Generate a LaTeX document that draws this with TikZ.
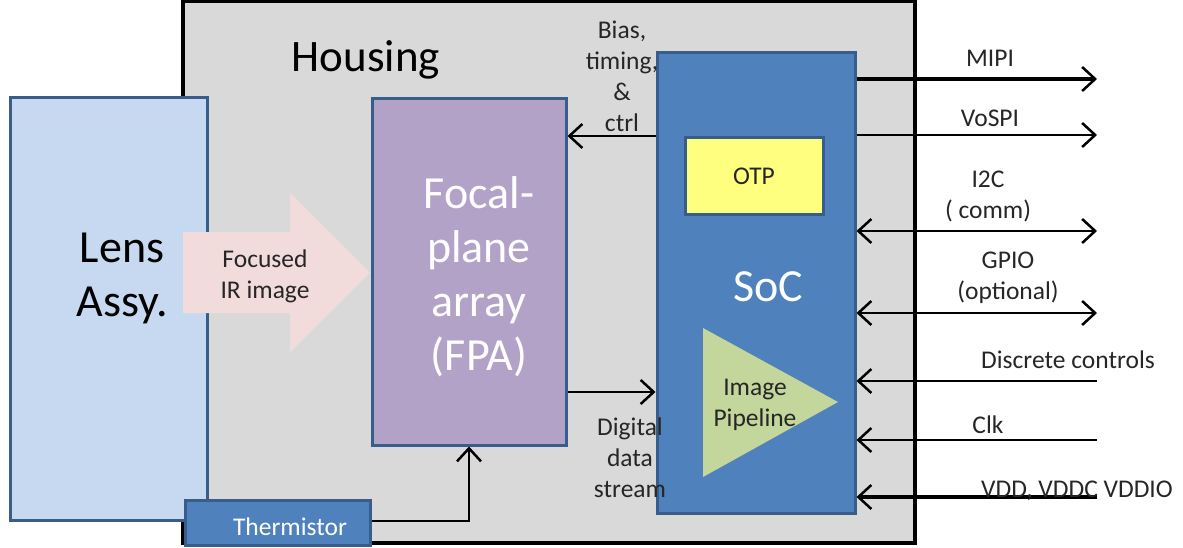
\documentclass[tikz,border=0pt]{standalone}
\usepackage{fontspec}
\setmainfont{Carlito}
\usetikzlibrary{arrows.meta,positioning}
\definecolor{housegray}{HTML}{D9D9D9}
\definecolor{edgeblue}{HTML}{385D8A}
\definecolor{lensblue}{HTML}{C6D9F1}
\definecolor{fpapurple}{HTML}{B3A2C7}
\definecolor{socblue}{HTML}{4F81BD}
\definecolor{otpyellow}{HTML}{FFFF7F}
\definecolor{pipegreen}{HTML}{C3D69B}
\definecolor{beampink}{HTML}{F2DCDB}
\definecolor{ink}{HTML}{262626}
\begin{document}
\begin{tikzpicture}[
  x=1pt,y=-1pt,
  block/.style={draw=edgeblue,line width=3pt,inner sep=0pt},
  big/.style={font=\fontsize{46}{54}\selectfont,align=center,inner sep=0pt},
  lab/.style={font=\fontsize{25.5}{31}\selectfont,align=center,inner sep=0pt,text=ink},
  sig/.style={line width=2.5pt,-{Straight Barb[length=13pt,width=24pt,line width=2.5pt]}},
  bisig/.style={line width=2.5pt,{Straight Barb[length=13pt,width=24pt,line width=2.5pt]}-{Straight Barb[length=13pt,width=24pt,line width=2.5pt]}}
]
\useasboundingbox (0,0) rectangle (1183,548);
% housing
\node[draw=black,line width=4pt,fill=housegray,minimum width=732pt,minimum height=542pt,inner sep=0pt] (housing) at (549,272) {};
\node[font=\fontsize{45}{52}\selectfont,text=black,inner sep=0pt] (housingtxt) at (366,60) {Housing};
% lens and focused image
\node[block,fill=lensblue,minimum width=197pt,minimum height=422pt] (lens) at (108.5,309) {};
\node[big,text=black] (lenstxt) at (122,278) {Lens\\Assy.};
\fill[beampink] (183,232) -- (290,232) -- (290,193) -- (370,272.5) -- (290,352) -- (290,313) -- (183,313) -- cycle;
\node[lab] (beamtxt) at (265,276) {Focused\\IR image};
% focal-plane array
\node[block,fill=fpapurple,minimum width=194pt,minimum height=346pt] (fpa) at (469,272) {};
\node[big,text=white] (fpatxt) at (479,277) {Focal-\\plane\\array\\(FPA)};
% SoC
\node[block,fill=socblue,minimum width=198pt,minimum height=460pt] (soc) at (756,283) {};
\node[big,text=white] (soctxt) at (768,287) {SoC};
\node[block,fill=otpyellow,minimum width=138pt,minimum height=77pt,lab] (otp) at (754,176.5) {OTP};
\fill[pipegreen] (703,328) -- (838,402) -- (703,477) -- cycle;
\node[lab] (pipetxt) at (755,405) {Image\\Pipeline};
% thermistor
\node[block,fill=socblue,minimum width=185pt,minimum height=45pt] (therm) at (277.5,522.5) {};
\node[lab,text=white] (thermtxt) at (290,527) {Thermistor};
% internal connections
\draw[sig] (soc.west |- 0,136) -- (fpa.east |- 0,136);
\node[lab] (biastxt) at (622,76) {Bias,\\timing,\\\&\\ctrl};
\draw[sig] (fpa.east |- 0,392) -- (soc.west |- 0,392);
\node[lab] (datatxt) at (630,458) {Digital\\data\\stream};
\draw[sig] (therm.east |- 0,521) -| (fpa.south);
% external interfaces
\coordinate (mipi) at (1097,79);
\coordinate (vospi) at (1097,135);
\coordinate (itwoc) at (1097,231);
\coordinate (gpio) at (1097,313);
\coordinate (discrete) at (1097,381);
\coordinate (clk) at (1097,440);
\coordinate (vdd) at (1097,497);
\draw[sig,line width=4pt] (soc.east |- mipi) -- (mipi);
\draw[sig] (soc.east |- vospi) -- (vospi);
\draw[bisig] (soc.east |- itwoc) -- (itwoc);
\draw[bisig] (soc.east |- gpio) -- (gpio);
\draw[sig] (discrete) -- (soc.east |- discrete);
\draw[sig] (clk) -- (soc.east |- clk);
\draw[sig,line width=4pt] (vdd) -- (soc.east |- vdd);
\node[lab] (mipitxt) at (990,58) {MIPI};
\node[lab] (vospitxt) at (990,118) {VoSPI};
\node[lab] (itwoctxt) at (988,196) {I2C\\( comm)};
\node[lab] (gpiotxt) at (1008,278) {GPIO\\(optional)};
\node[lab] (discretetxt) at (1068,360) {Discrete controls};
\node[lab] (clktxt) at (988,425) {Clk};
\node[lab] (vddtxt) at (1077,491) {VDD, VDDC VDDIO};
\end{tikzpicture}
\end{document}
